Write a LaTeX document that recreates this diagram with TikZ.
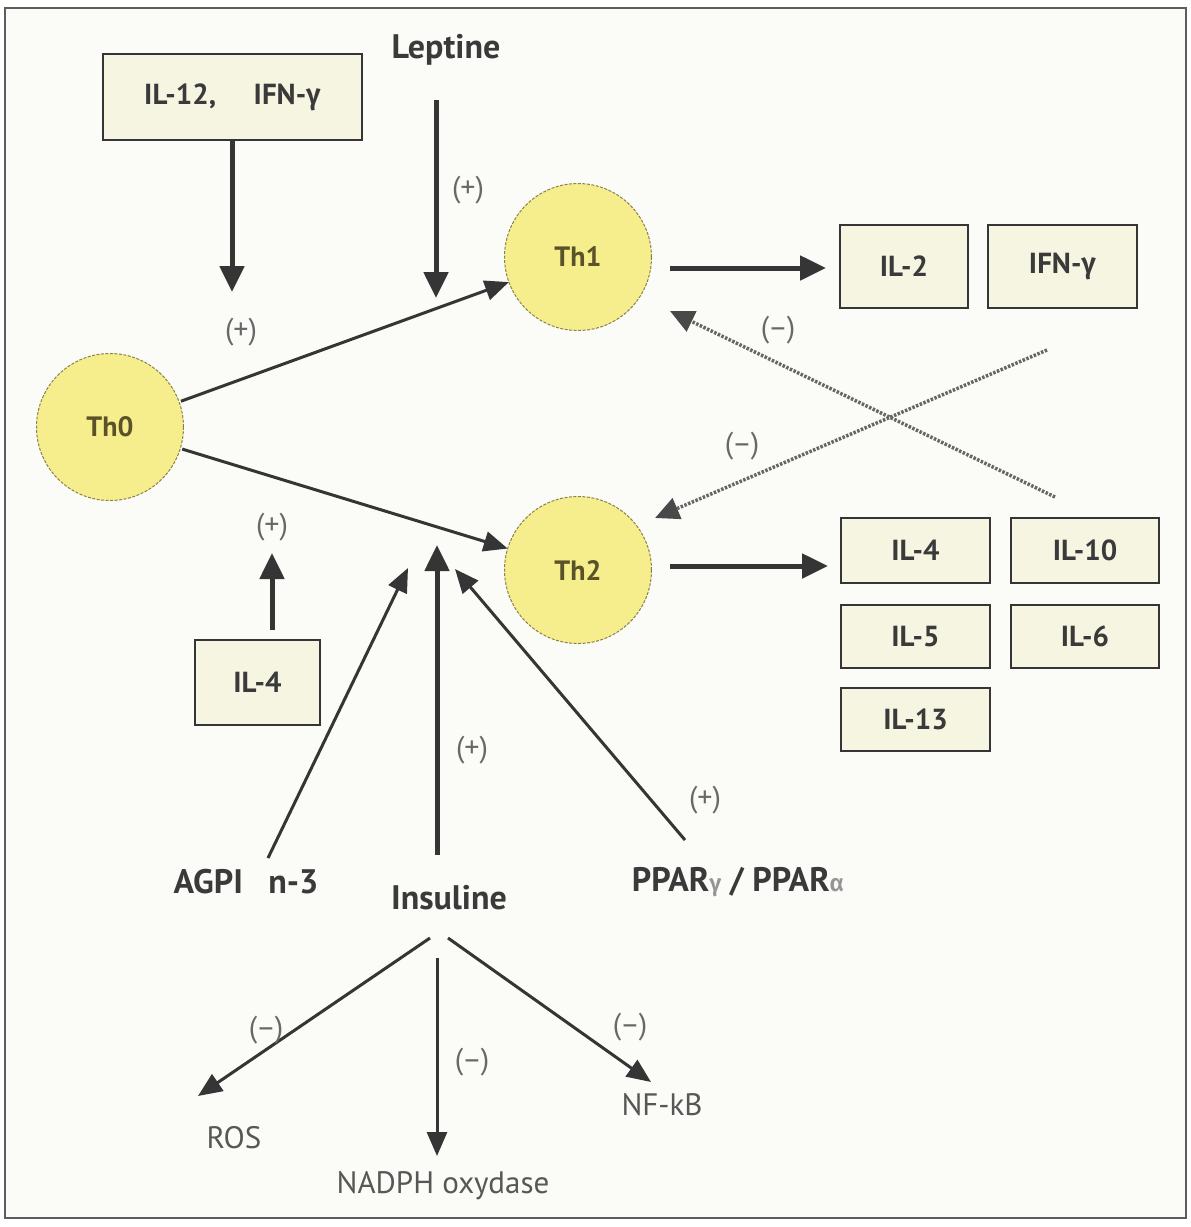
\documentclass[tikz,border=0pt]{standalone}
\usepackage{fontspec}
\setmainfont{PT Sans}
\newfontfamily\grk{Fira Sans Light}[Scale=1]
\usetikzlibrary{arrows.meta}
\definecolor{bgc}{HTML}{FBFBF7}
\definecolor{boxc}{HTML}{F5F5E2}
\definecolor{circc}{HTML}{F6EE8C}
\definecolor{circd}{HTML}{8A8248}
\definecolor{txtc}{HTML}{3A3A3A}
\definecolor{thc}{HTML}{5A5228}
\definecolor{signc}{HTML}{686868}
\definecolor{arrc}{HTML}{353535}
\definecolor{dotc}{HTML}{666666}
\begin{document}
\begin{tikzpicture}[x=1pt,y=-1pt,
  every node/.style={inner sep=0pt, outer sep=0pt},
  bx/.style={draw=arrc, line width=1.5pt, fill=boxc, text=txtc, font=\fontsize{29}{33}\selectfont\bfseries},
  cell/.style={circle, draw=circd, dashed, dash pattern=on 3pt off 1.5pt, line width=1pt, fill=circc, minimum size=147pt, text=thc, font=\fontsize{28}{32}\selectfont\bfseries},
  lbl/.style={text=txtc, font=\fontsize{34}{38}\selectfont\bfseries},
  plain/.style={text=txtc!85, font=\fontsize{31}{35}\selectfont},
  sign/.style={text=signc, font=\fontsize{30}{34}\selectfont},
  thickarr/.style={draw=arrc, line width=5pt, -{Triangle[width=24pt,length=26pt]}},
  thinarr/.style={draw=arrc, line width=3pt, -{Triangle[width=20pt,length=24pt]}},
  dotarr/.style={draw=dotc, line width=3.5pt, dash pattern=on 2.5pt off 1.5pt, -{Triangle[width=22pt,length=24pt,color=arrc!90,fill=arrc!90]}}
]
\useasboundingbox (0,0) rectangle (1191,1227);
\fill[white] (0,0) rectangle (1191,1227);
\draw[fill=bgc, draw=arrc!80, line width=1.6pt] (5,8) rectangle (1186,1218);

% cells
\node[cell] (th0) at (110,427) {Th0};
\node[cell] (th1) at (578,257) {Th1};
\node[cell] (th2) at (578,570) {Th2};

% top inputs
\node[bx, minimum width=259pt, minimum height=86pt] (il12) at (232.5,97) {IL-12,\hspace{1.3em}IFN-{\grk γ}};
\node[lbl] (lep) at (446,50) {Leptine};
\coordinate (il12tip) at (232,292);
\coordinate (lepstart) at (436,100);
\coordinate (leptip) at (436,298);
\draw[thickarr] (il12.south -| il12tip) -- (il12tip);
\draw[thickarr] (lepstart) -- (leptip);
\node[sign] (s1) at (241,332) {(+)};
\node[sign] (s2) at (468,190) {(+)};

% Th0 -> Th1 / Th2
\draw[thinarr, shorten <=2pt] (th0) -- (th1);
\draw[thinarr, shorten <=2pt] (th0) -- (th2);

% Th1 products
\node[bx, minimum width=128pt, minimum height=83pt] (il2) at (904,266.5) {IL-2};
\node[bx, minimum width=149pt, minimum height=83pt] (ifn) at (1062.5,266.5) {IFN-{\grk γ}};
\coordinate (th1out) at (670,268);
\coordinate (th1in) at (826,268);
\draw[thickarr] (th1out) -- (th1in);

% Th2 products
\node[bx, minimum width=149pt, minimum height=65pt] (il4b) at (915.5,550.5) {IL-4};
\node[bx, minimum width=148pt, minimum height=65pt] (il10) at (1085,550.5) {IL-10};
\node[bx, minimum width=149pt, minimum height=63pt] (il5) at (915.5,636.5) {IL-5};
\node[bx, minimum width=148pt, minimum height=63pt] (il6) at (1085,636.5) {IL-6};
\node[bx, minimum width=149pt, minimum height=63pt] (il13) at (915.5,719.5) {IL-13};
\coordinate (th2out) at (670,566);
\coordinate (th2in) at (828,566);
\draw[thickarr] (th2out) -- (th2in);

% cross inhibition (dotted)
\coordinate (d1s) at (1055,497);
\coordinate (d1e) at (670,311);
\coordinate (d2s) at (1047,350);
\coordinate (d2e) at (655,518);
\draw[dotarr] (d1s) -- (d1e);
\draw[dotarr] (d2s) -- (d2e);
\node[sign] (s3) at (778,330) {(–)};
\node[sign] (s4) at (742,446) {(–)};

% IL-4 -> Th0/Th2
\node[bx, minimum width=125pt, minimum height=85pt] (il4a) at (257.5,682.5) {IL-4};
\coordinate (il4s) at (272,630);
\coordinate (il4tip) at (272,553);
\draw[thickarr] (il4s) -- (il4tip);
\node[sign] (s5) at (272,527) {(+)};

% lower inputs
\node[lbl] (agpi) at (246,882) {AGPI\hspace{0.75em}n-3};
\node[lbl] (ins) at (449,898) {Insuline};
\node[lbl] (ppar) at (738,882) {PPAR{\color{signc!70}\grk\fontsize{24}{28}\selectfont γ} / PPAR{\color{signc!70}\grk\fontsize{24}{28}\selectfont α}};
\coordinate (agpis) at (268,858);
\coordinate (agpie) at (408,568);
\coordinate (inss) at (437,855);
\coordinate (inse) at (437,545);
\coordinate (ppars) at (685,840);
\coordinate (ppare) at (455,569);
\draw[thinarr] (agpis) -- (agpie);
\draw[thickarr] (inss) -- (inse);
\draw[thinarr] (ppars) -- (ppare);
\node[sign] (s6) at (472,750) {(+)};
\node[sign] (s7) at (705,800) {(+)};

% insulin effects
\node[plain] (ros) at (234,1138) {ROS};
\node[plain] (nadph) at (443,1186) {NADPH oxydase};
\node[plain] (nfkb) at (662,1105) {NF-kB};
\coordinate (r1) at (430,938);
\coordinate (r2) at (198,1096);
\coordinate (n1) at (437,958);
\coordinate (n2) at (437,1156);
\coordinate (f1) at (448,938);
\coordinate (f2) at (651,1082);
\draw[thinarr] (r1) -- (r2);
\draw[thinarr] (n1) -- (n2);
\draw[thinarr] (f1) -- (f2);
\node[sign] (s8) at (266,1030) {(–)};
\node[sign] (s9) at (472,1062) {(–)};
\node[sign] (s10) at (630,1027) {(–)};
\end{tikzpicture}
\end{document}
